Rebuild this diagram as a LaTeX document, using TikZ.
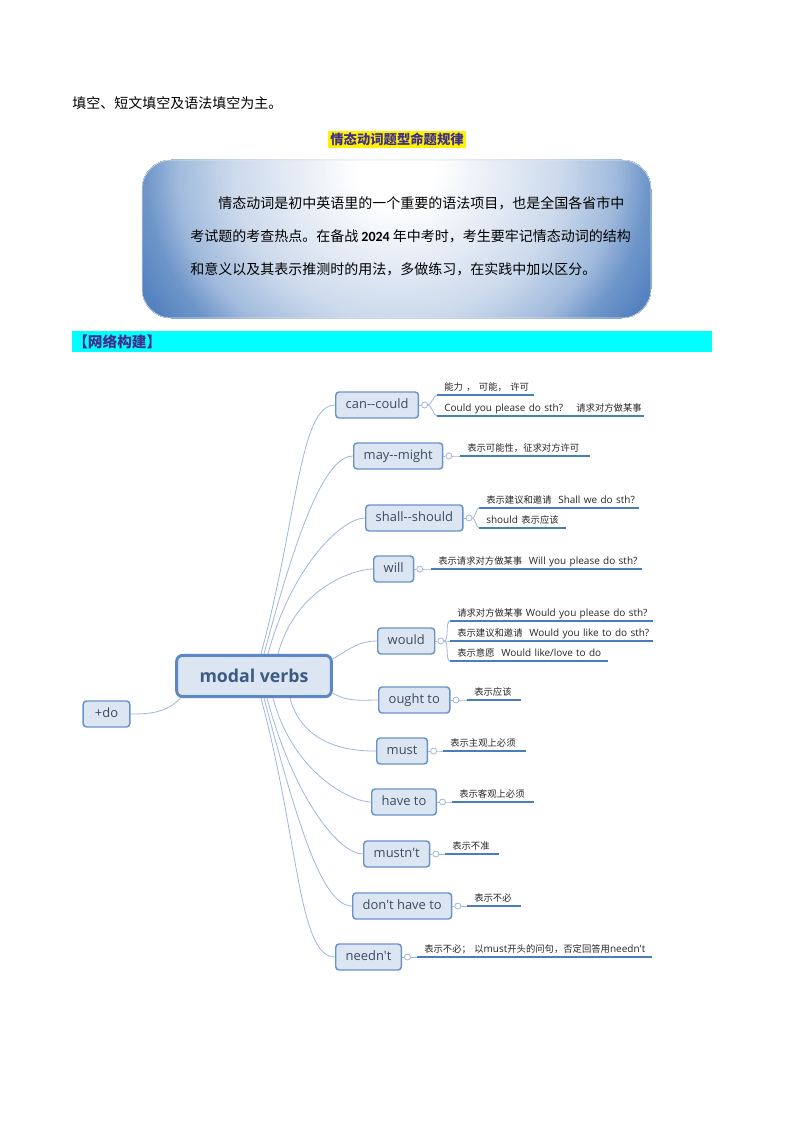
\documentclass[tikz,border=0pt]{standalone}
\usepackage{fontspec}
\setmainfont{Open Sans}[Ligatures=TeXOff]
\newfontfamily\zh{Noto Sans CJK SC}
\newfontfamily\numfont{Carlito}
\usetikzlibrary{positioning}

\definecolor{boxfill}{HTML}{DCE6F2}
\definecolor{boxline}{HTML}{6A92C8}
\definecolor{rootline}{HTML}{5B87C4}
\definecolor{linkcol}{HTML}{9FB6DA}
\definecolor{leafline}{HTML}{4A7DBB}
\definecolor{labelcol}{HTML}{3B4A62}
\definecolor{rootcol}{HTML}{3C5A86}
\definecolor{headcol}{HTML}{3F2E8E}
\definecolor{barcyan}{HTML}{00FFFF}
\definecolor{glowrim}{HTML}{5583C0}

\newcommand\cn[1]{{\zh\fontsize{7}{9}\selectfont #1}}

\begin{document}
\begin{tikzpicture}[x=0.75pt, y=-0.75pt,
	link/.style={draw=linkcol, line width=0.6pt},
	rise/.style={out=75, in=180, out looseness=1.4, in looseness=0.35},
	fall/.style={out=-75, in=180, out looseness=1.4, in looseness=0.35},
	tie/.style={out=0, in=180, looseness=0.6},
	root/.style={draw=rootline, fill=boxfill, line width=2.2pt, rounded corners=4.5pt, minimum width=116pt, minimum height=31pt, text=rootcol, font=\bfseries\fontsize{13.3}{16}\selectfont},
	topic/.style={draw=boxline, fill=boxfill, line width=1.1pt, rounded corners=2.5pt, minimum height=19.5pt, inner xsep=7.5pt, text height=7pt, text depth=2pt, anchor=west, text=labelcol, font=\fontsize{9.7}{11}\selectfont},
	knob/.style={circle, draw=linkcol, fill=white, line width=0.6pt, inner sep=0pt, minimum size=4.5pt},
	leaf/.style={anchor=south west, inner xsep=0pt, inner ysep=2pt, text width=#1, align=left, text height=6pt, text depth=1.2pt, execute at begin node={\hspace*{5.25pt}}, text=black!85, font=\fontsize{7.5}{9}\selectfont},
	underline/.style={draw=leafline, line width=1.5pt}]
	\useasboundingbox (0,0) rectangle (794,1123);

	\node[anchor=base west, inner sep=0pt, font=\zh\fontsize{10.5}{12}\selectfont] (intro) at (72,109) {填空、短文填空及语法填空为主。};
	\node[fill=yellow, text=headcol, inner xsep=2pt, inner ysep=1.5pt, font=\zh\bfseries\fontsize{10}{12}\selectfont] (rule) at (397,139.5) {情态动词题型命题规律};

	\begin{scope}
		\clip[rounded corners=22pt] (142,160) rectangle (651,318);
		\foreach \d in {1.3,1.29,...,0.1} {
			\pgfmathsetmacro\p{100*(\d<0.15 ? 0 : (\d<0.6 ? (\d-0.15)*0.667 : (\d<0.8 ? 0.3+(\d-0.6)*1.25 : (\d<0.92 ? 0.55+(\d-0.8)*2.5 : min(1,0.85+(\d-0.92)*1.25)))))}
			\fill[glowrim!\p!white] (397,170) ellipse [x radius=\d*275, y radius=\d*250];
		}
	\end{scope}
	\draw[black!10, rounded corners=22pt] (142,160) rectangle (651,318);
	\node[anchor=base west, inner sep=0pt, font=\zh\fontsize{10.5}{12}\selectfont] (line1) at (218,209) {情态动词是初中英语里的一个重要的语法项目，也是全国各省市中};
	\node[anchor=base west, inner sep=0pt, font=\zh\fontsize{10.5}{12}\selectfont] (line2) at (190,242) {考试题的考查热点。在备战 {\numfont\bfseries 2024} 年中考时，考生要牢记情态动词的结构};
	\node[anchor=base west, inner sep=0pt, font=\zh\fontsize{10.5}{12}\selectfont] (line3) at (190,274) {和意义以及其表示推测时的用法，多做练习，在实践中加以区分。};

	\fill[barcyan] (72,331) rectangle (712,352);
	\node[anchor=west, inner sep=0pt, text=headcol, font=\zh\bfseries\fontsize{11}{13}\selectfont] (net) at (73,341.5) {【网络构建】};

	\node[root] (root) at (254,676) {modal verbs};
	\node[topic, anchor=center, minimum width=35pt] (plusdo) at (106.5,714) {+do};

	\node[topic] (can) at (335,405) {can--could};
	\node[topic] (may) at (353,456) {may--might};
	\node[topic] (shall) at (365,518) {shall--should};
	\node[topic] (will) at (373,569) {will};
	\node[topic] (would) at (377,641) {would};
	\node[topic] (ought) at (378,700) {ought to};
	\node[topic] (must) at (376,751) {must};
	\node[topic] (haveto) at (371,802) {have to};
	\node[topic] (mustnt) at (363,854) {mustn't};
	\node[topic] (dont) at (352,906) {don't have to};
	\node[topic] (neednt) at (335,957) {needn't};

	\foreach \t in {can,may,shall,will,would,ought,must,haveto,mustnt,dont,neednt} {
		\draw[link] (\t.east) -- ++(2,0);
		\node[knob, right=1.5pt of \t] (\t-k) {};
	}

	\node[leaf=72pt] (can-a) at (437,395) {\cn{能力 ， 可能， 许可}};
	\node[leaf=154.5pt] (can-b) at (437,416) {Could you please do sth?\quad\ \cn{请求对方做某事}};
	\node[leaf=96.75pt] (may-a) at (460,456) {\cn{表示可能性，征求对方许可}};
	\node[leaf=119.25pt] (shall-a) at (479,508) {\cn{表示建议和邀请}\ \ Shall we do sth?};
	\node[leaf=64.5pt] (shall-b) at (479,528) {should \cn{表示应该}};
	\node[leaf=157.5pt] (will-a) at (431,569) {\cn{表示请求对方做某事}\ \ Will you please do sth?};
	\node[leaf=151.5pt] (would-a) at (450,621) {\cn{请求对方做某事} Would you please do sth?};
	\node[leaf=151.5pt] (would-b) at (450,641) {\cn{表示建议和邀请}\ \ Would you like to do sth?};
	\node[leaf=117.75pt] (would-c) at (450,661) {\cn{表示意愿}\ \ Would like/love to do};
	\node[leaf=39.75pt] (ought-a) at (467,700) {\cn{表示应该}};
	\node[leaf=61.5pt] (must-a) at (443,751) {\cn{表示主观上必须}};
	\node[leaf=60.75pt] (haveto-a) at (452,802) {\cn{表示客观上必须}};
	\node[leaf=39.75pt] (mustnt-a) at (445,854) {\cn{表示不准}};
	\node[leaf=39.75pt] (dont-a) at (467,906) {\cn{表示不必}};
	\node[leaf=175.5pt] (neednt-a) at (417,957) {\cn{表示不必； 以}must\cn{开头的问句，否定回答用}needn't};

	\foreach \l in {can-a,can-b,may-a,shall-a,shall-b,will-a,would-a,would-b,would-c,ought-a,must-a,haveto-a,mustnt-a,dont-a,neednt-a}
		\draw[underline] (\l.south west) -- (\l.south east);

	\path[link]	([xshift=5.25pt]root.north) edge[rise] (can.west)
			([xshift=7.5pt]root.north) edge[rise] (may.west)
			([xshift=10.5pt]root.north) edge[rise] (shall.west)
			([xshift=18pt]root.north) edge[rise] (will.west)
			([yshift=-3.75pt]root.north east) edge[out=30, in=180] (would.west)
			([yshift=3.75pt]root.south east) edge[out=-30, in=180] (ought.west)
			([xshift=27pt]root.south) edge[fall] (must.west)
			([xshift=14.25pt]root.south) edge[fall] (haveto.west)
			([xshift=9.75pt]root.south) edge[fall] (mustnt.west)
			([xshift=7.5pt]root.south) edge[fall] (dont.west)
			([xshift=5.25pt]root.south) edge[fall] (neednt.west)
			([xshift=4pt]root.south west) edge[out=-135, in=0] (plusdo.east);

	\path[link]	(can-k.east) edge[tie] (can-a.south west)
			(can-k.east) edge[tie] (can-b.south west)
			(may-k.east) edge[tie] (may-a.south west)
			(shall-k.east) edge[tie] (shall-a.south west)
			(shall-k.east) edge[tie] (shall-b.south west)
			(will-k.east) edge[tie] (will-a.south west)
			(would-k.east) edge[tie] (would-a.south west)
			(would-k.east) edge[tie] (would-b.south west)
			(would-k.east) edge[tie] (would-c.south west)
			(ought-k.east) edge[tie] (ought-a.south west)
			(must-k.east) edge[tie] (must-a.south west)
			(haveto-k.east) edge[tie] (haveto-a.south west)
			(mustnt-k.east) edge[tie] (mustnt-a.south west)
			(dont-k.east) edge[tie] (dont-a.south west)
			(neednt-k.east) edge[tie] (neednt-a.south west);
\end{tikzpicture}
\end{document}
